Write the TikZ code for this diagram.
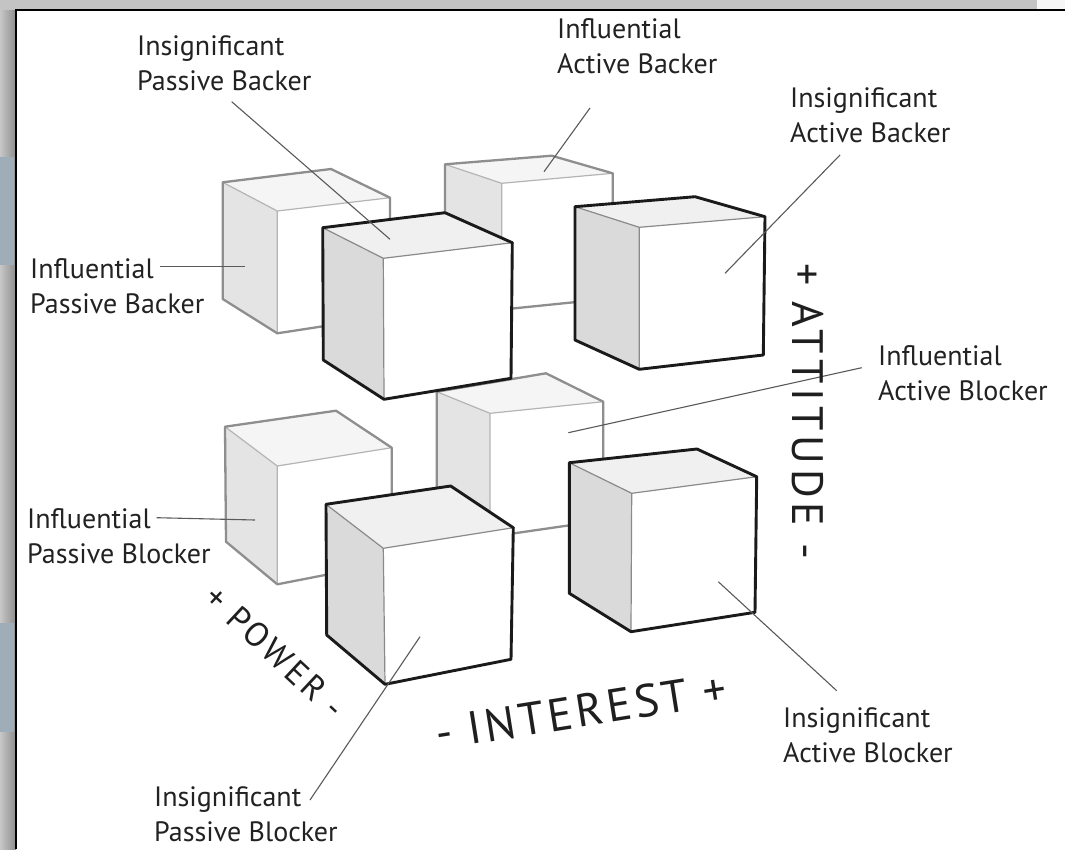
\documentclass[tikz,border=0pt]{standalone}
\usepackage{fontspec}
\setmainfont{PT Sans}
\definecolor{lfront}{HTML}{DADADA}
\definecolor{lback}{HTML}{E4E4E4}
\definecolor{tfront}{HTML}{F0F0F0}
\definecolor{tback}{HTML}{F5F5F5}
\definecolor{edgefront}{HTML}{1A1A1A}
\definecolor{edgeback}{HTML}{8E8E8E}
\definecolor{innerfront}{HTML}{8A8A8A}
\definecolor{innerback}{HTML}{B4B4B4}
\definecolor{txt}{HTML}{222222}
\definecolor{leadc}{HTML}{5A5A5A}
\definecolor{outergray}{HTML}{C4C4C4}
\definecolor{bluish}{HTML}{9FADB8}
% #1 = front/back, #2 TL, #3 TB, #4 TR, #5 TF, #6 BL, #7 BF, #8 BR
\newcommand\drawcube[8]{%
  \fill[left #1] #2 -- #5 -- #7 -- #6 -- cycle;
  \fill[white] #5 -- #4 -- #8 -- #7 -- cycle;
  \fill[top #1] #2 -- #3 -- #4 -- #5 -- cycle;
  \draw[inner #1] #2 -- #5 -- #4 #5 -- #7;
  \draw[outline #1] #2 -- #3 -- #4 -- #8 -- #7 -- #6 -- cycle;
}
\tikzset{
  left front/.style={fill=lfront},
  left back/.style={fill=lback},
  top front/.style={fill=tfront},
  top back/.style={fill=tback},
  inner front/.style={draw=innerfront, line width=1.2pt},
  inner back/.style={draw=innerback, line width=1.2pt},
  outline front/.style={draw=edgefront, line width=2.9pt, line join=round},
  outline back/.style={draw=edgeback, line width=2.3pt, line join=round},
  lbl/.style={anchor=north west, inner sep=0pt, align=left, text=txt,
    font=\fontsize{28}{35}\selectfont},
  axis/.style={inner sep=0pt, text=black!88},
  leader/.style={draw=leadc, line width=1.1pt},
}
\begin{document}
\begin{tikzpicture}[x=1pt,y=-1pt]
\useasboundingbox (0,0) rectangle (1065,849);
% background
\fill[outergray] (0,0) rectangle (1065,849);
\fill[white!93!gray] (1037,0) rectangle (1065,10);
\shade[left color=black!22, right color=black!45] (0,10) rectangle (16,849);
\fill[bluish] (0,157) rectangle (14,265);
\fill[bluish] (0,623) rectangle (14,732);
\fill[white] (16,10) rectangle (1065,849);
\draw[line width=2pt] (16,849) -- (16,10) -- (1065,10);

% back cubes
\drawcube{back}{(445,164.3)}{(551.7,155.7)}{(612.7,173.3)}{(501.7,183.3)}{(445,283)}{(501.7,309.6)}{(612.7,298.3)}
\drawcube{back}{(222.7,182.3)}{(331,169)}{(390,197.7)}{(277.3,211)}{(222.7,299)}{(277.3,333.3)}{(390,316)}
\drawcube{back}{(436.7,391.7)}{(546,373.3)}{(603.3,401.7)}{(490,413.3)}{(436.7,510)}{(490,536.8)}{(603.3,520.4)}
\drawcube{back}{(225,426.7)}{(336,410.7)}{(391.7,447.7)}{(277.3,466)}{(226,541.7)}{(277.3,584.3)}{(391.7,562)}
% front cubes
\drawcube{front}{(322.7,227.7)}{(445,212.7)}{(512.3,242.7)}{(383.3,258.3)}{(323.3,360)}{(384,399.3)}{(511,378.3)}
\drawcube{front}{(575,206.7)}{(695,196.7)}{(765,216.7)}{(639.3,227.3)}{(575,340)}{(639.3,369.3)}{(763.3,355)}
\drawcube{front}{(326,504.3)}{(450.7,486)}{(513.3,527.7)}{(383.3,548.3)}{(326.7,635)}{(385,684.3)}{(511,659.3)}
\drawcube{front}{(569.3,462.7)}{(697,449)}{(756.7,476.7)}{(631.7,493.3)}{(569.3,593.3)}{(631,631.7)}{(755,612.3)}

% labels
\node[lbl] (ipbk) at (137,35) {Insignificant\\Passive Backer};
\node[lbl] (iabk) at (557,18) {Influential\\Active Backer};
\node[lbl] (sabk) at (790,87) {Insignificant\\Active Backer};
\node[lbl] (fpbk) at (30,258) {Influential\\Passive Backer};
\node[lbl] (fabl) at (878,345) {Influential\\Active Blocker};
\node[lbl] (fpbl) at (27,508) {Influential\\Passive Blocker};
\node[lbl] (spbl) at (154,786) {Insignificant\\Passive Blocker};
\node[lbl] (sabl) at (783,707) {Insignificant\\Active Blocker};

% leader end points
\coordinate (a1) at (231.7,101.7); \coordinate (b1) at (390,239.3);
\coordinate (a2) at (590,108);     \coordinate (b2) at (544,171.7);
\coordinate (a3) at (840,155);     \coordinate (b3) at (725,273.3);
\coordinate (a4) at (160,266.7);   \coordinate (b4) at (245,266.7);
\coordinate (a5) at (861.7,367.7); \coordinate (b5) at (568.3,432.7);
\coordinate (a6) at (156.7,517.7); \coordinate (b6) at (255,520);
\coordinate (a7) at (310,800);     \coordinate (b7) at (420,636.7);
\coordinate (a8) at (836.7,690.7); \coordinate (b8) at (718.3,581.7);
\foreach \i in {1,...,8} {\draw[leader] (a\i) -- (b\i);}

% axis labels
\node[axis, rotate=-90, font=\fontsize{44}{44}\selectfont\addfontfeatures{LetterSpace=11}] (att) at (808,411) {+ ATTITUDE -};
\node[axis, rotate=9, font=\fontsize{46}{46}\selectfont\addfontfeatures{LetterSpace=8}] (int) at (581,711) {- INTEREST +};
\node[axis, rotate=-43, font=\fontsize{34}{34}\selectfont\addfontfeatures{LetterSpace=10}] (pow) at (275,652) {+ POWER -};
\end{tikzpicture}
\end{document}
